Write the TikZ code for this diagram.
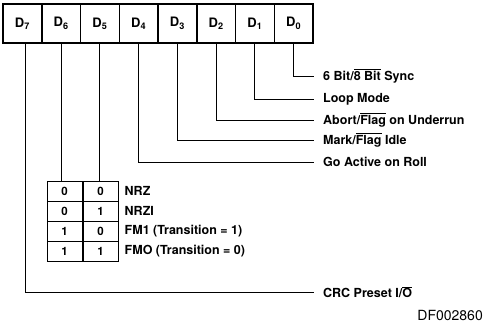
\documentclass[tikz,border=0pt]{standalone}
\usepackage{fontspec}
\setmainfont{TeX Gyre Heros}
\usetikzlibrary{positioning}
\newcommand{\ovl}[1]{$\overline{\mbox{#1}}$}
\tikzset{
  bitcell/.style={draw, line width=1.5pt, minimum width=38.75pt, minimum height=39pt, inner sep=0pt, font=\bfseries\fontsize{13}{15}\selectfont},
  tabcell/.style={draw, line width=1pt, minimum width=35pt, minimum height=20pt, inner sep=0pt, font=\bfseries\fontsize{11.5}{13}\selectfont},
  lbl/.style={anchor=west, inner xsep=9pt, inner ysep=0pt, font=\bfseries\fontsize{12.5}{14}\selectfont},
  tlbl/.style={anchor=west, inner xsep=6pt, inner ysep=0pt, font=\bfseries\fontsize{12.5}{14}\selectfont},
  wire/.style={line width=0.9pt},
}
\begin{document}
\begin{tikzpicture}[x=1pt,y=-1pt]
\useasboundingbox (0,0) rectangle (483,325);
% register D7 .. D0
\foreach \b [count=\i from 0] in {7,6,5,4,3,2,1,0}
  \node[bitcell] (d\b) at (22.4+38.75*\i,23.5) {D\textsubscript{\b}};
% bit labels
\node[lbl] (l0) at (314,76) {6 Bit/\ovl{8 Bit} Sync};
\node[lbl] (l1) at (314,99) {Loop Mode};
\node[lbl] (l2) at (314,120) {Abort/\ovl{Flag} on Underrun};
\node[lbl] (l3) at (314,140) {Mark/\ovl{Flag} Idle};
\node[lbl] (l4) at (314,162) {Go Active on Roll};
\node[lbl] (l7) at (314,292) {CRC Preset I/\ovl{O}};
\foreach \b in {0,...,4}
  \draw[wire] (d\b.south) |- (l\b.west);
\draw[wire] ([xshift=3pt]d7.south) |- (l7.west);
% D6/D5 mode table
\foreach \r/\a/\c/\t [count=\j from 0] in {0/0/0/NRZ, 1/0/1/NRZI, 2/1/0/FM1 (Transition = 1), 3/1/1/FMO (Transition = 0)} {
  \node[tabcell] (ta\r) at (64.5,191+20*\j) {\a};
  \node[tabcell, right=0pt of ta\r] (tb\r) {\c};
  \node[tlbl] (tl\r) at (tb\r.east) {\t};
}
\draw[wire] (d6.south) -- (d6.south |- ta0.north);
\draw[wire] (d5.south) -- (d5.south |- tb0.north);
\node[anchor=south east, inner sep=0pt, font=\fontsize{14}{16}\selectfont] (fig) at (483,321) {DF002860};
\end{tikzpicture}
\end{document}
